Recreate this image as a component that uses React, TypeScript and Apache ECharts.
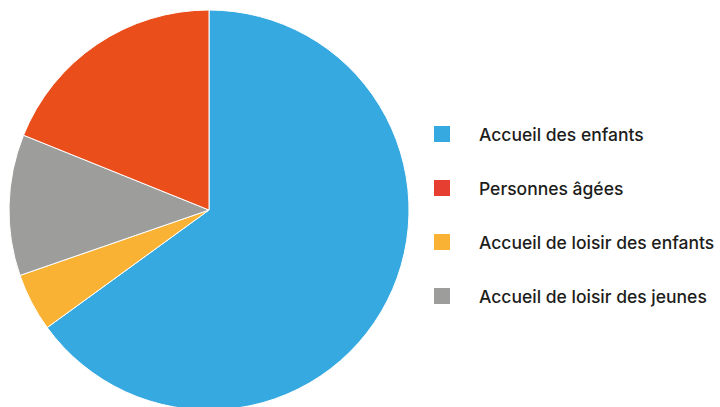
import React, { useEffect, useRef } from "react";
import * as echarts from "echarts";

const categories = [
  "Accueil des enfants",
  "Accueil de loisir des enfants",
  "Accueil de loisir des jeunes",
  "Personnes âgées",
];
const values = [65, 4.7, 11.4, 18.9];
const sliceColors = ["#36a9e1", "#f9b233", "#9d9d9c", "#e94e1b"];
const legendOrder = [
  "Accueil des enfants",
  "Personnes âgées",
  "Accueil de loisir des enfants",
  "Accueil de loisir des jeunes",
];
const legendColors = ["#36a9e1", "#e63e30", "#f9b233", "#9d9d9c"];

export default function App() {
  const ref = useRef<HTMLDivElement>(null);
  useEffect(() => {
    document.body.style.margin = "0";
    if (!ref.current) return;
    const chart = echarts.init(ref.current, undefined, { renderer: "svg" });
    chart.setOption({
      animation: false,
      legend: {
        orient: "vertical",
        left: 427,
        top: 118,
        itemWidth: 18,
        itemHeight: 18,
        itemGap: 32,
        icon: "rect",
        selectedMode: false,
        data: legendOrder.map((n, i) => ({
          name: n,
          itemStyle: { color: legendColors[i] },
        })),
        textStyle: {
          fontFamily: "Inter",
          fontSize: 17.5,
          fontWeight: 500,
          color: "#1d1d1b",
          padding: [4, 0, 0, 23],
          lineHeight: 18,
        },
      },
      series: [
        {
          type: "pie",
          center: [209, 210],
          radius: 200,
          startAngle: 90,
          clockwise: true,
          label: { show: false },
          labelLine: { show: false },
          emphasis: { disabled: true },
          itemStyle: { borderColor: "#ffffff", borderWidth: 1 },
          data: categories.map((c, i) => ({
            name: c,
            value: values[i],
            itemStyle: { color: sliceColors[i] },
          })),
        },
      ],
    });
    return () => chart.dispose();
  }, []);
  return <div ref={ref} style={{ width: 720, height: 407 }} />;
}
